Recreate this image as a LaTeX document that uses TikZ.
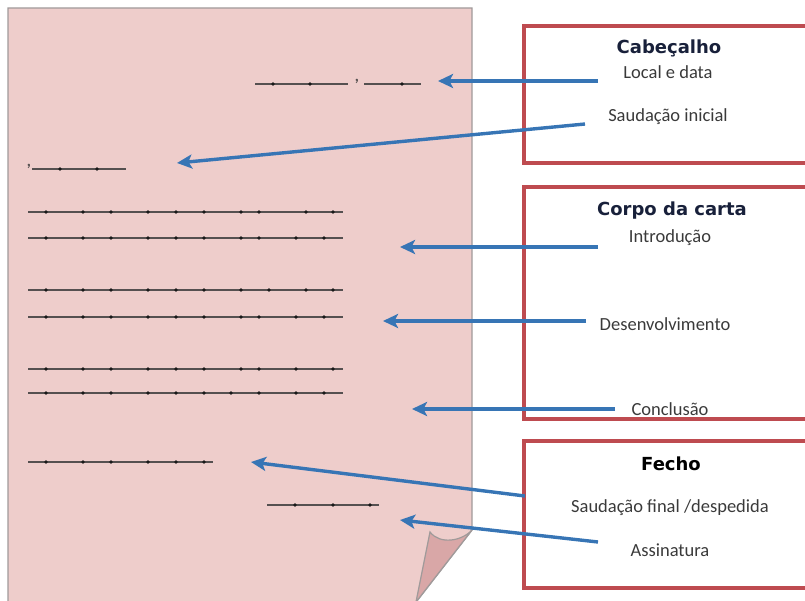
\documentclass[tikz,border=0pt]{standalone}
\usepackage{fontspec}
\setmainfont{Carlito}
\newfontfamily\titlefont{DejaVu Sans}
\usetikzlibrary{arrows.meta}
\definecolor{pagefill}{HTML}{EECDCB}
\definecolor{pageborder}{HTML}{A09A9A}
\definecolor{flapfill}{HTML}{D9A7A7}
\definecolor{boxred}{HTML}{BE4B50}
\definecolor{arrowblue}{HTML}{3775B5}
\definecolor{lblgrey}{HTML}{3A3A3A}
\definecolor{navy}{HTML}{18203A}
\definecolor{writeline}{HTML}{555050}
\tikzset{
  sectionbox/.style={draw=boxred, line width=3.2pt},
  title/.style={font=\titlefont\bfseries\fontsize{18}{21}\selectfont, inner sep=0pt, anchor=center},
  lbl/.style={font=\fontsize{18.5}{21}\selectfont, text=lblgrey, inner sep=0pt, anchor=center},
  pointer/.style={draw=arrowblue, line width=3.4pt, -{Stealth[length=15pt,width=14pt,inset=3.5pt]}},
  wline/.style={draw=writeline, line width=2.2pt},
  wdot/.style={fill=black!90, draw=none}
}
\newcommand{\wrline}[4]{% x1, x2, y, dot xs
  \draw[wline] (#1,#3) -- (#2,#3);
  \foreach \d in {#4} {\fill[wdot] (\d,#3) circle (1.8pt);}
}
\begin{document}
\begin{tikzpicture}[x=1pt,y=-1pt]
\useasboundingbox (0,0) rectangle (805,601);
\begin{scope}
\clip (0,0) rectangle (805,601);
% page
\path[fill=pagefill, draw=pageborder, line width=1.4pt]
  (8,8) -- (472,8) -- (472,530) -- (413,606) -- (8,606) -- cycle;
% folded corner
\path[fill=flapfill, draw=pageborder, line width=1.2pt]
  (430,532) .. controls (440,545) and (462,541) .. (472,530) -- (416,602) -- cycle;
% writing lines
\wrline{255}{348}{84}{273,310}
\node[inner sep=0pt, font=\bfseries\fontsize{16}{16}\selectfont, text=writeline] (c1) at (357,81) {,};
\wrline{364}{421}{84}{402}
\node[inner sep=0pt, font=\bfseries\fontsize{16}{16}\selectfont, text=writeline] (c2) at (29,166) {,};
\wrline{32}{126}{169}{60,97}
\wrline{28}{343}{212}{46,83,111,148,176,204,241,259,306,333}
\wrline{28}{343}{238}{46,83,111,148,176,204,241,259,296,324}
\wrline{28}{343}{290}{46,83,111,148,176,204,241,269,306,333}
\wrline{28}{343}{317}{46,83,111,148,176,204,241,259,296,324}
\wrline{28}{343}{369}{46,83,111,148,176,204,241,259,296,333}
\wrline{28}{343}{393}{46,83,111,148,176,204,231,259,296,324}
\wrline{28}{213}{462}{46,83,111,148,176,204}
\wrline{267}{379}{505}{295,333,370}
% boxes
\draw[sectionbox] (524,26) rectangle (830,163);
\draw[sectionbox] (524,187) rectangle (830,419);
\draw[sectionbox] (524,441) rectangle (830,588);
\end{scope}
% titles and labels
\node[title, text=navy] (tcab) at (669,48) {Cabeçalho};
\node[lbl] (local) at (668,72) {Local e data};
\node[lbl] (saud) at (668,117) {Saudação inicial};
\node[title, text=navy] (tcorpo) at (672,211) {Corpo da carta};
\node[lbl] (intro) at (670,238) {Introdução};
\node[lbl] (desenv) at (665,324) {Desenvolvimento};
\node[lbl] (concl) at (670,409) {Conclusão};
\node[title, text=black] (tfecho) at (671,464) {Fecho};
\node[lbl] (sfinal) at (670,508) {Saudação final /despedida};
\node[lbl] (assin) at (670,550) {Assinatura};
% arrow ends
\coordinate (a1s) at (598,81);  \coordinate (a1e) at (438,81);
\coordinate (a2s) at (585,124); \coordinate (a2e) at (177,163);
\coordinate (a3s) at (598,247); \coordinate (a3e) at (400,247);
\coordinate (a4s) at (586,321); \coordinate (a4e) at (383,321);
\coordinate (a5s) at (615,409); \coordinate (a5e) at (412,409);
\coordinate (a6s) at (525,496); \coordinate (a6e) at (251,462);
\coordinate (a7s) at (598,542); \coordinate (a7e) at (400,520);
\draw[pointer] (a1s) -- (a1e);
\draw[pointer] (a2s) -- (a2e);
\draw[pointer] (a3s) -- (a3e);
\draw[pointer] (a4s) -- (a4e);
\draw[pointer] (a5s) -- (a5e);
\draw[pointer] (a6s) -- (a6e);
\draw[pointer] (a7s) -- (a7e);
\end{tikzpicture}
\end{document}
